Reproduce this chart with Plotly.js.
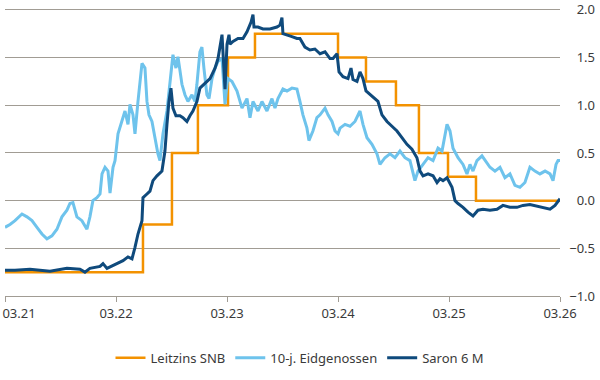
<!DOCTYPE html>
<html><head><meta charset="utf-8">
<script src="https://cdn.plot.ly/plotly-3.0.1.min.js"></script>
<style>html,body{margin:0;padding:0;background:#fff}#chart{width:600px;height:380px}</style>
</head><body><div id="chart"></div>
<script>
// time in decimal years
const tickVals = [2021.167, 2022.167, 2023.167, 2024.167, 2025.167, 2026.167];
const tickText = ["03.21", "03.22", "03.23", "03.24", "03.25", "03.26"];
const yTicks = [-1.0, -0.5, 0.0, 0.5, 1.0, 1.5, 2.0];
const yTickText = ["\u22121.0", "\u22120.5", "0.0", "0.5", "1.0", "1.5", "2.0"];

const snbX = [2021.167, 2022.410, 2022.671, 2022.905, 2023.176, 2023.419, 2024.167, 2024.419, 2024.689, 2024.896, 2025.158, 2025.410, 2026.167];
const snbY = [-0.75, -0.25, 0.5, 1.0, 1.5, 1.75, 1.5, 1.25, 1.0, 0.5, 0.25, 0.0, 0.0];

const eidX = [2021.167,2021.212,2021.257,2021.320,2021.365,2021.410,2021.455,2021.500,2021.545,2021.590,2021.635,2021.680,2021.725,2021.752,2021.779,2021.815,2021.860,2021.905,2021.932,2021.959,2021.995,2022.023,2022.041,2022.068,2022.095,2022.113,2022.140,2022.158,2022.185,2022.230,2022.248,2022.275,2022.293,2022.320,2022.338,2022.365,2022.401,2022.428,2022.446,2022.464,2022.491,2022.518,2022.545,2022.563,2022.590,2022.626,2022.653,2022.680,2022.707,2022.725,2022.761,2022.788,2022.815,2022.851,2022.878,2022.896,2022.923,2022.941,2022.959,2022.986,2023.005,2023.032,2023.059,2023.086,2023.122,2023.131,2023.149,2023.167,2023.176,2023.212,2023.257,2023.302,2023.347,2023.374,2023.401,2023.446,2023.482,2023.527,2023.572,2023.599,2023.626,2023.671,2023.707,2023.752,2023.797,2023.824,2023.851,2023.887,2023.905,2023.941,2023.977,2024.005,2024.050,2024.077,2024.113,2024.140,2024.167,2024.185,2024.230,2024.275,2024.320,2024.365,2024.392,2024.428,2024.473,2024.518,2024.545,2024.590,2024.635,2024.680,2024.725,2024.770,2024.815,2024.860,2024.888,2024.933,2024.978,2025.023,2025.068,2025.104,2025.131,2025.149,2025.176,2025.203,2025.248,2025.293,2025.329,2025.356,2025.383,2025.419,2025.464,2025.491,2025.536,2025.581,2025.626,2025.671,2025.716,2025.761,2025.806,2025.851,2025.896,2025.941,2025.986,2026.032,2026.077,2026.104,2026.131,2026.149,2026.167];
const eidY = [-0.28,-0.25,-0.21,-0.14,-0.17,-0.21,-0.28,-0.35,-0.40,-0.37,-0.30,-0.17,-0.10,-0.03,-0.02,-0.17,-0.21,-0.30,-0.17,0.00,0.03,0.07,0.28,0.35,0.31,0.08,0.35,0.42,0.70,0.87,0.94,0.80,1.01,0.90,0.70,1.04,1.44,1.39,1.04,0.90,0.83,0.66,0.49,0.42,0.70,0.94,1.22,1.53,1.39,1.51,1.22,1.11,1.04,1.11,1.04,1.22,1.56,1.61,1.39,1.11,1.07,1.28,1.39,1.46,1.49,1.28,1.01,1.22,1.28,1.25,1.15,0.97,1.07,0.87,1.04,0.94,1.04,0.94,1.07,0.97,1.07,1.17,1.15,1.18,1.17,1.04,0.90,0.76,0.63,0.73,0.87,0.90,0.97,0.90,0.83,0.73,0.70,0.76,0.80,0.78,0.83,0.94,0.80,0.66,0.59,0.49,0.38,0.45,0.49,0.45,0.52,0.45,0.42,0.21,0.31,0.38,0.45,0.42,0.55,0.52,0.70,0.80,0.73,0.55,0.45,0.38,0.28,0.38,0.31,0.42,0.47,0.42,0.35,0.31,0.35,0.24,0.28,0.16,0.14,0.19,0.35,0.31,0.28,0.31,0.28,0.21,0.38,0.42,0.42];

const saronX = [2021.167,2021.257,2021.392,2021.572,2021.725,2021.842,2021.887,2021.932,2022.023,2022.050,2022.086,2022.140,2022.185,2022.230,2022.275,2022.311,2022.338,2022.365,2022.401,2022.410,2022.446,2022.473,2022.500,2022.536,2022.581,2022.608,2022.626,2022.644,2022.662,2022.680,2022.707,2022.743,2022.770,2022.806,2022.833,2022.860,2022.896,2022.923,2022.968,2023.014,2023.059,2023.086,2023.122,2023.140,2023.149,2023.167,2023.185,2023.194,2023.221,2023.266,2023.311,2023.347,2023.383,2023.401,2023.410,2023.446,2023.491,2023.554,2023.617,2023.644,2023.662,2023.671,2023.707,2023.752,2023.797,2023.824,2023.869,2023.914,2023.959,2024.005,2024.050,2024.095,2024.122,2024.158,2024.176,2024.212,2024.257,2024.284,2024.302,2024.338,2024.365,2024.392,2024.419,2024.455,2024.500,2024.527,2024.563,2024.608,2024.653,2024.698,2024.743,2024.788,2024.833,2024.878,2024.906,2024.933,2024.978,2025.023,2025.059,2025.086,2025.113,2025.149,2025.194,2025.221,2025.248,2025.293,2025.338,2025.383,2025.428,2025.473,2025.536,2025.599,2025.653,2025.716,2025.779,2025.833,2025.896,2025.959,2026.014,2026.077,2026.122,2026.167];
const saronY = [-0.73,-0.73,-0.72,-0.74,-0.71,-0.72,-0.75,-0.71,-0.69,-0.66,-0.71,-0.68,-0.66,-0.63,-0.59,-0.61,-0.49,-0.35,-0.21,0.03,0.07,0.10,0.21,0.26,0.31,0.52,0.80,1.04,1.18,0.97,0.89,0.89,0.87,0.83,0.89,0.94,1.04,1.18,1.23,1.28,1.39,1.49,1.74,1.39,1.17,1.64,1.74,1.64,1.67,1.70,1.70,1.77,1.87,1.95,1.82,1.82,1.80,1.80,1.82,1.84,1.92,1.75,1.74,1.72,1.70,1.70,1.61,1.58,1.59,1.54,1.56,1.49,1.49,1.54,1.35,1.30,1.28,1.39,1.27,1.25,1.35,1.28,1.15,1.11,1.06,1.04,0.90,0.83,0.78,0.73,0.66,0.59,0.54,0.45,0.31,0.26,0.28,0.26,0.19,0.23,0.21,0.24,0.14,0.00,-0.03,-0.07,-0.12,-0.16,-0.10,-0.09,-0.10,-0.09,-0.05,-0.07,-0.07,-0.05,-0.04,-0.06,-0.07,-0.09,-0.05,0.02];

const names = ["Leitzins SNB", "10-j. Eidgenossen", "Saron 6 M"];
const colors = ["#F39200", "#6EC3EC", "#0F4A7C"];

const traces = [
  {x: snbX, y: snbY, name: names[0], mode: "lines", line: {color: colors[0], width: 2.5, shape: "hv"}},
  {x: eidX, y: eidY, name: names[1], mode: "lines", line: {color: colors[1], width: 3}},
  {x: saronX, y: saronY, name: names[2], mode: "lines", line: {color: colors[2], width: 3}},
  {x: [tickVals[0]], y: [null], xaxis: "x2", yaxis: "y", showlegend: false, hoverinfo: "skip"},
  {x: [tickVals[0]], y: [null], xaxis: "x", yaxis: "y2", showlegend: false, hoverinfo: "skip"}
];

const gridCol = "#a19c94";
const font = {family: "Noto Sans, sans-serif", size: 13, color: "#3a3a3a"};
const xr = [tickVals[0], tickVals[tickVals.length - 1]];
const yr = [-1.0, 2.02];

const layout = {
  width: 600, height: 380,
  margin: {l: 5, r: 5, t: 8, b: 84},
  paper_bgcolor: "#fff", plot_bgcolor: "#fff",
  font: font,
  showlegend: true,
  legend: {orientation: "h", x: 0.5, xanchor: "center", y: -0.215, yanchor: "middle",
           font: font, itemwidth: 30, tracegroupgap: 0},
  xaxis: {domain: [0, 0.9407], range: xr, tickvals: tickVals,
          ticktext: ["", ...tickText.slice(1)], showgrid: false, zeroline: false,
          showline: true, linecolor: gridCol, linewidth: 1, ticks: "outside", ticklen: 5,
          tickcolor: gridCol, tickfont: font, fixedrange: true, ticklabeloverflow: "allow"},
  xaxis2: {overlaying: "x", domain: [0, 0.9407], range: xr, anchor: "y", side: "bottom",
           tickvals: [tickVals[0]], ticktext: [tickText[0]], ticklabelshift: 14,
           ticks: "outside", ticklen: 5, tickcolor: "rgba(0,0,0,0)", ticklabeloverflow: "allow",
           showgrid: false, zeroline: false, showline: false, tickfont: font},
  yaxis: {range: yr, tickvals: yTicks, showticklabels: false, showgrid: true,
          gridcolor: gridCol, gridwidth: 1, zeroline: false, showline: false, ticks: "",
          fixedrange: true},
  yaxis2: {overlaying: "y", anchor: "free", position: 1, side: "left", range: yr,
           tickvals: yTicks, ticktext: yTickText, showgrid: false, zeroline: false,
           showline: false, ticks: "", ticklabelstandoff: 0, tickfont: font,
           ticklabeloverflow: "allow"}
};

Plotly.newPlot("chart", traces, layout, {displayModeBar: false, staticPlot: true});
</script>
</body></html>
